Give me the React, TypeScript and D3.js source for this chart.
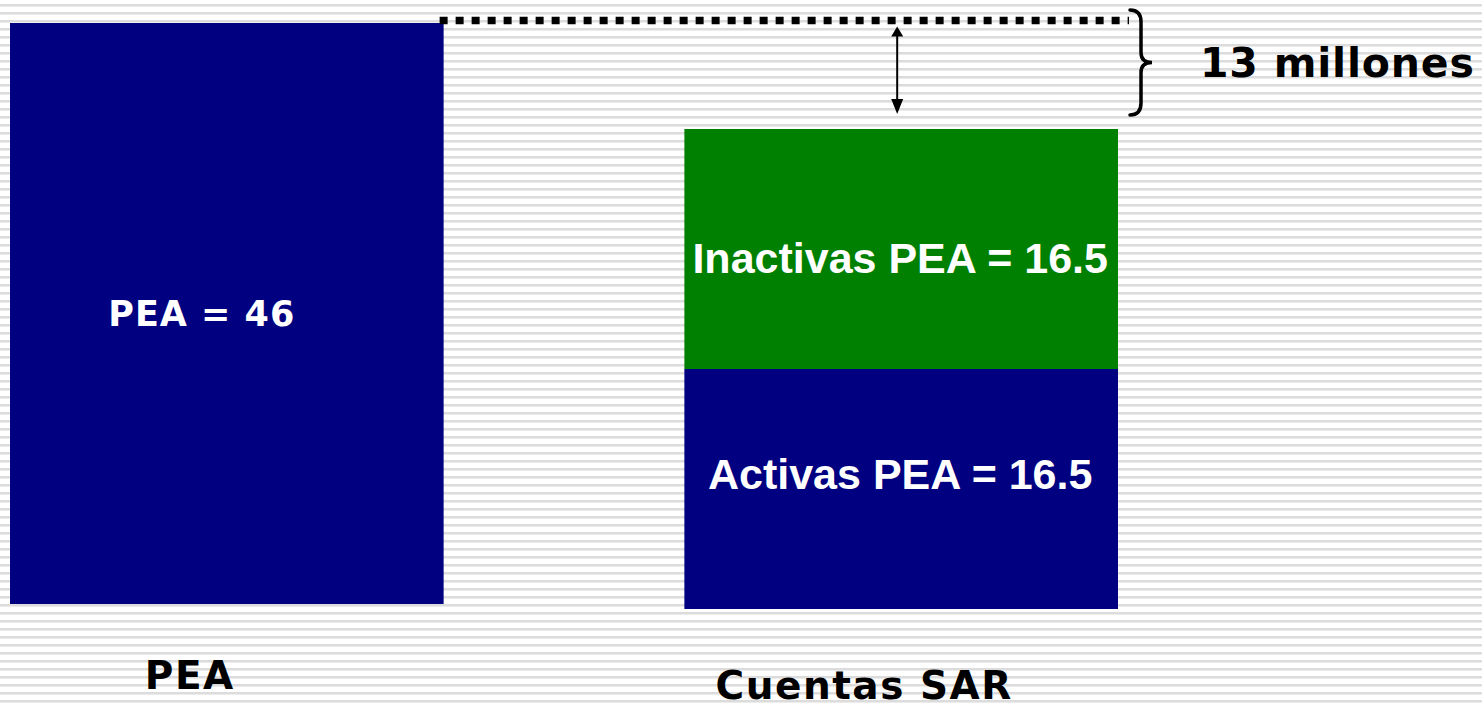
import React from "react";
import * as d3 from "d3";

const W = 1482;
const H = 703;

const categories = ["PEA", "Cuentas SAR"];
const peaValues = [46];
const peaLabels = ["PEA = 46"];
const sarSegments = ["Activas", "Inactivas"];
const sarValues = [16.5, 16.5];
const sarLabels = ["Activas PEA = 16.5", "Inactivas PEA = 16.5"];
const sarColors = ["#000080", "#008000"];
const gapValue = [13];
const gapLabel = ["13 millones"];

const BOLD_VERDANA = "'DejaVu Sans', Verdana, sans-serif";
const BOLD_ARIAL = "'Liberation Sans', Arial, sans-serif";

export default function App() {
  const x = d3
    .scaleBand<string>()
    .domain(categories)
    .range([10, 1118])
    .paddingInner(0.357)
    .paddingOuter(0);
  const bw = x.bandwidth();

  const yPea = d3.scaleLinear().domain([0, d3.sum(peaValues)]).range([604, 23]);
  const yeSar = d3.scaleLinear().domain([0, d3.sum(sarValues)]).range([609, 129]);

  const stackTops = d3.cumsum(sarValues);
  const stackBottoms = stackTops.map((t, i) => t - sarValues[i]);
  const labelDy = [0, 24];

  const stripes = d3.range(4, H, 8);

  const xPea = x("PEA")!;
  const xSar = x("Cuentas SAR")!;
  const lineY = yPea(peaValues[0]) - 2.5;
  const lineX0 = xPea + bw - 4;
  const lineX1 = 1129;
  const arrowX = xSar + bw / 2 - 4;
  const sarTop = yeSar(d3.sum(sarValues));
  const arrowTop = lineY + 6;
  const arrowBot = sarTop - 15;
  const braceX = 1130;
  const braceTop = 10;
  const braceBot = 115;
  const braceMid = (braceTop + braceBot) / 2;

  const brace = `M${braceX},${braceTop} Q${braceX + 11},${braceTop} ${braceX + 11},${braceTop + 12} L${braceX + 11},${braceMid - 10} Q${braceX + 11},${braceMid} ${braceX + 22},${braceMid} Q${braceX + 11},${braceMid} ${braceX + 11},${braceMid + 10} L${braceX + 11},${braceBot - 12} Q${braceX + 11},${braceBot} ${braceX},${braceBot}`;

  return (
    <svg
      width={W}
      height={H}
      style={{ position: "absolute", left: 0, top: 0, display: "block" }}
    >
      <rect x={0} y={0} width={W} height={H} fill="#ffffff" />
      {stripes.map((s) => (
        <g key={s}>
          <rect x={0} y={s} width={W} height={2} fill="#dcdcdc" />
          <rect x={0} y={s + 2} width={W} height={1} fill="#ececec" />
        </g>
      ))}

      {/* PEA bar */}
      <rect
        x={xPea}
        y={yPea(peaValues[0])}
        width={bw}
        height={yPea(0) - yPea(peaValues[0])}
        fill="#000080"
      />
      <text
        x={xPea + bw / 2 - 25}
        y={yPea(peaValues[0] / 2) + 12}
        textAnchor="middle"
        fill="#ffffff"
        fontFamily={BOLD_VERDANA}
        fontWeight="bold"
        fontSize={35}
        letterSpacing={1}
      >
        {peaLabels[0]}
      </text>

      {/* SAR stacked bar */}
      {sarSegments.map((seg, i) => (
        <rect
          key={seg}
          x={xSar}
          y={yeSar(stackTops[i])}
          width={bw}
          height={yeSar(stackBottoms[i]) - yeSar(stackTops[i])}
          fill={sarColors[i]}
        />
      ))}
      {sarSegments.map((seg, i) => (
        <text
          key={seg + "-l"}
          x={xSar + bw / 2 - 1}
          y={yeSar((stackTops[i] + stackBottoms[i]) / 2) + labelDy[i]}
          textAnchor="middle"
          fill="#ffffff"
          fontFamily={BOLD_ARIAL}
          fontWeight="bold"
          fontSize={43}
        >
          {sarLabels[i]}
        </text>
      ))}

      {/* Dotted level line */}
      <line
        x1={lineX0}
        x2={lineX1}
        y1={lineY}
        y2={lineY}
        stroke="#000000"
        strokeWidth={7.5}
        strokeDasharray="8 8"
      />

      {/* double arrow */}
      <line x1={arrowX} x2={arrowX} y1={arrowTop + 8} y2={arrowBot - 8} stroke="#000" strokeWidth={2} />
      <path d={`M${arrowX},${arrowTop} L${arrowX - 6},${arrowTop + 10} L${arrowX + 6},${arrowTop + 10} Z`} fill="#000" />
      <path d={`M${arrowX},${arrowBot} L${arrowX - 6},${arrowBot - 15} L${arrowX + 6},${arrowBot - 15} Z`} fill="#000" />

      {/* brace */}
      <path d={brace} fill="none" stroke="#000" strokeWidth={3.5} strokeLinecap="round" />
      <text
        x={1200}
        y={77}
        fill="#000"
        fontFamily={BOLD_VERDANA}
        fontWeight="bold"
        fontSize={41}
        letterSpacing={0.8}
        data-value={gapValue[0]}
      >
        {gapLabel[0]}
      </text>

      {/* category labels */}
      {categories.map((c) => (
        <text
          key={c}
          x={x(c)! + bw / 2 - 37}
          y={c === "PEA" ? 689 : 699}
          textAnchor="middle"
          fill="#000"
          fontFamily={BOLD_VERDANA}
          fontWeight="bold"
          fontSize={39}
          letterSpacing={1.5}
        >
          {c}
        </text>
      ))}
    </svg>
  );
}
